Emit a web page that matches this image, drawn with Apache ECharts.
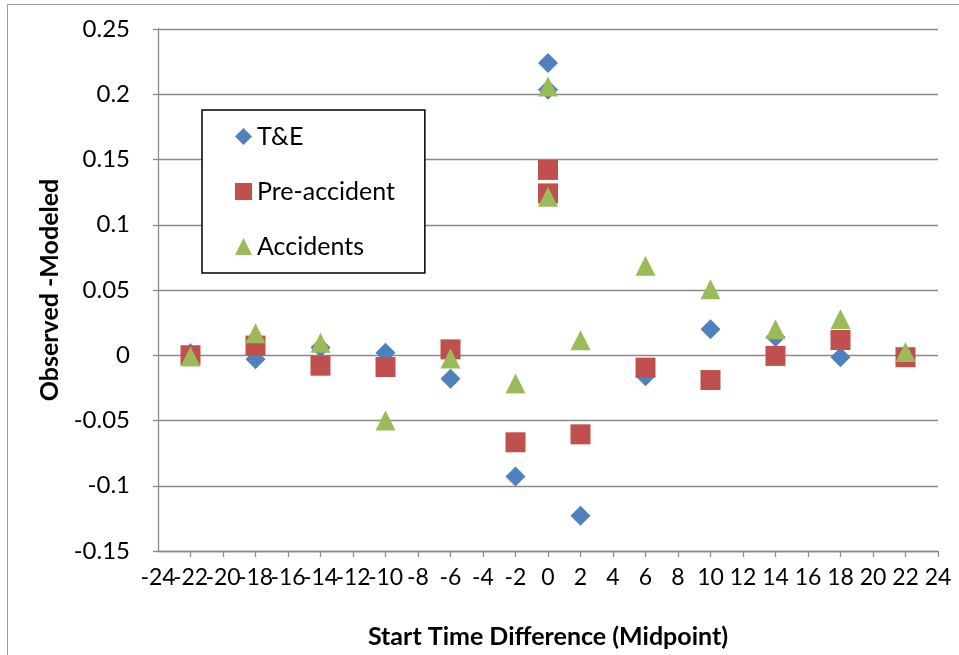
<!DOCTYPE html>
<html>
<head>
<meta charset="utf-8">
<script src="https://cdn.jsdelivr.net/npm/echarts@6/dist/echarts.min.js"></script>
<style>
  html, body { margin: 0; padding: 0; background: #fff; }
  #chart { width: 959px; height: 655px; }
</style>
</head>
<body>
<div id="chart"></div>
<script>
// start time difference (midpoint), shared by all three series
var startDiff = [-22, -18, -14, -10, -6, -2, 0, 0, 2, 6, 10, 14, 18, 22];
var teValues  = [0.0015, -0.003, 0.006, 0.002, -0.018, -0.093, 0.224, 0.2035, -0.123, -0.016, 0.020, 0.014, -0.0015, 0.0];
var preValues = [0.0, 0.0074, -0.008, -0.009, 0.0045, -0.0667, 0.142, 0.124, -0.0606, -0.0095, -0.019, -0.0005, 0.0117, -0.0015];
var accValues = [-0.001, 0.0169, 0.0095, -0.05, -0.0025, -0.0217, 0.206, 0.1214, 0.0115, 0.0685, 0.0506, 0.020, 0.0278, 0.0025];

function pairs(ys) {
  return startDiff.map(function (x, i) { return [x, ys[i]]; });
}

var font = 'Lato, "Open Sans", sans-serif';
var grey = '#8a8a8a';
var xLabelStyle = { fontFamily: font, fontSize: 23, color: '#000', margin: 15 };

var myChart = echarts.init(document.getElementById('chart'));
var option = {
  animation: false,
  textStyle: { fontFamily: font, color: '#000' },
  graphic: [{
    type: 'rect',
    shape: { x: 7.5, y: 4.5, width: 1000, height: 1000 },
    style: { fill: 'none', stroke: '#9a9a9a', lineWidth: 1 }
  }],
  grid: { left: 158, right: 21, top: 29, bottom: 104 },
  legend: {
    orient: 'vertical',
    left: 202,
    top: 110,
    padding: [14, 30, 14, 33],
    itemGap: 30,
    itemWidth: 17,
    itemHeight: 17,
    backgroundColor: '#fff',
    borderColor: '#000',
    borderWidth: 1.5,
    textStyle: { fontFamily: font, fontSize: 25, color: '#000' },
    data: ['T&E', 'Pre-accident', 'Accidents']
  },
  xAxis: [
    {
      type: 'value',
      position: 'bottom',
      min: -24,
      max: 24,
      interval: 2,
      name: 'Start Time Difference (Midpoint)',
      nameLocation: 'middle',
      nameGap: 73,
      nameTextStyle: { fontFamily: font, fontSize: 25, fontWeight: 'bold', color: '#000' },
      splitLine: { show: false },
      axisLine: { show: true, onZero: false, lineStyle: { color: grey, width: 1.3 } },
      axisTick: { show: true, length: 6, lineStyle: { color: grey, width: 1.3 } },
      axisLabel: Object.assign({ hideOverlap: false, showMinLabel: false, showMaxLabel: true }, xLabelStyle)
    },
    {
      // only carries the -24 label, which the first axis drops when labels crowd
      type: 'value',
      position: 'bottom',
      min: -24,
      max: 24,
      interval: 24,
      splitLine: { show: false },
      axisLine: { show: false, onZero: false },
      axisTick: { show: false },
      axisLabel: Object.assign({
        showMinLabel: true,
        formatter: function (v) { return v === -24 ? '-24' : ''; }
      }, xLabelStyle)
    }
  ],
  yAxis: {
    type: 'value',
    min: -0.15,
    max: 0.25,
    interval: 0.05,
    name: 'Observed -Modeled',
    nameLocation: 'middle',
    nameRotate: 90,
    nameGap: 84,
    nameTextStyle: { fontFamily: font, fontSize: 25, fontWeight: 'bold', color: '#000' },
    splitLine: { show: true, lineStyle: { color: grey, width: 1.3 } },
    axisLine: { show: true, onZero: false, lineStyle: { color: grey, width: 1.3 } },
    axisTick: { show: true, length: 5, lineStyle: { color: grey, width: 1.3 } },
    axisLabel: { fontFamily: font, fontSize: 24, color: '#000', margin: 28 }
  },
  series: [
    {
      name: 'T&E',
      type: 'scatter',
      symbol: 'diamond',
      symbolSize: [20, 20],
      itemStyle: { color: '#4F81BD', opacity: 1 },
      data: pairs(teValues)
    },
    {
      name: 'Pre-accident',
      type: 'scatter',
      symbol: 'rect',
      symbolSize: [20, 20],
      itemStyle: { color: '#C0504D', opacity: 1 },
      data: pairs(preValues)
    },
    {
      name: 'Accidents',
      type: 'scatter',
      symbol: 'triangle',
      symbolSize: [20, 20],
      itemStyle: { color: '#9BBB59', opacity: 1 },
      data: pairs(accValues)
    }
  ]
};
myChart.setOption(option);
</script>
</body>
</html>
